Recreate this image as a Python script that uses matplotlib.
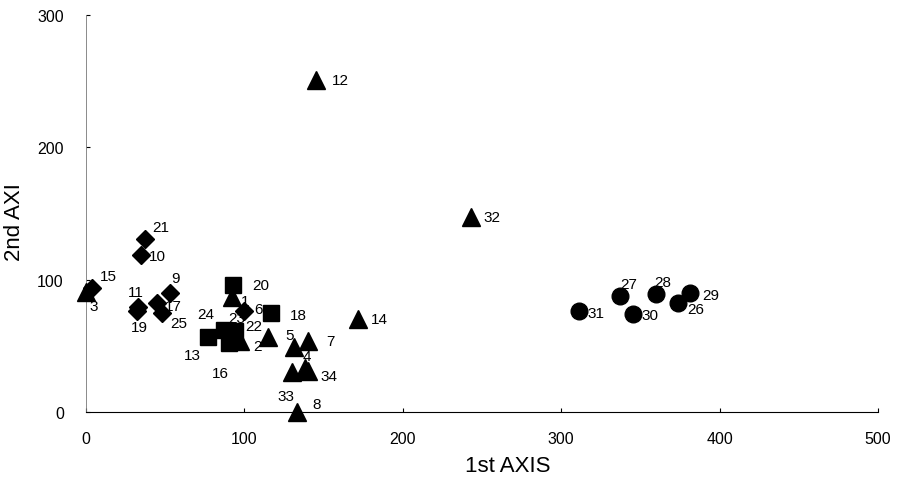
import matplotlib.pyplot as plt

plt.rcParams['font.family'] = ['Liberation Sans', 'DejaVu Sans']

# triangles
tri_lab = ['1', '2', '3', '4', '5', '7', '8', '12', '14', '22', '32', '33', '34']
tri_x = [92, 97, 0, 138, 131, 140, 133, 145, 172, 115, 243, 130, 140]
tri_y = [87, 54, 91, 33, 49, 54, 0, 251, 70, 57, 147, 30, 31]
# squares
sq_lab = ['13', '16', '18', '20', '23', '24']
sq_x = [77, 90, 117, 93, 94, 87]
sq_y = [57, 52, 75, 96, 61, 62]
# diamonds
dia_lab = ['6', '9', '10', '11', '15', '17', '19', '21', '25']
dia_x = [100, 53, 35, 33, 4, 45, 32, 37, 48]
dia_y = [76, 90, 119, 79, 94, 82, 76, 131, 75]
# circles
cir_lab = ['26', '27', '28', '29', '30', '31']
cir_x = [374, 337, 360, 381, 345, 311]
cir_y = [82, 88, 89, 90, 74, 76]

# label offsets in pixels (dx, dy down)
offs = {'1': (13, 4), '2': (18, 5), '3': (8, 14), '4': (2, -12), '5': (-4, -12),
        '7': (23, 0), '8': (20, -8), '12': (25, 0), '14': (21, 0), '22': (-14, -11),
        '32': (21, 0), '33': (-6, 24), '34': (21, 5),
        '13': (-16, 18), '16': (-8, 30), '18': (27, 2), '20': (27, 0), '23': (2, -13),
        '24': (-18, -16),
        '6': (14, -2), '9': (6, -15), '10': (16, 1), '11': (-2, -15), '15': (16, -12),
        '17': (16, 3), '19': (3, 16), '21': (16, -12), '25': (17, 10),
        '26': (17, 6), '27': (9, -12), '28': (6, -12), '29': (21, 2), '30': (17, 1),
        '31': (17, 2)}

fig = plt.figure(figsize=(8.98, 4.89), dpi=100)
ax = fig.add_axes([0.0958, 0.1554, 0.882, 0.812])

groups = [(tri_lab, tri_x, tri_y, '^', 13),
          (sq_lab, sq_x, sq_y, 's', 12),
          (dia_lab, dia_x, dia_y, 'D', 9),
          (cir_lab, cir_x, cir_y, 'o', 12)]
for lab, xs, ys, m, ms in groups:
    ax.plot(xs, ys, linestyle='none', marker=m, markersize=ms, color='black',
            zorder=3, clip_on=False)
    for t, x, y in zip(lab, xs, ys):
        dx, dy = offs[t]
        ax.annotate(t, (x, y), xytext=(dx, -dy), textcoords='offset pixels',
                    ha='center', va='center', fontsize=11, zorder=2)

ax.set_xlim(0, 500)
ax.set_ylim(0, 300)
ax.set_xticks([0, 100, 200, 300, 400, 500])
ax.set_yticks([0, 100, 200, 300])
ax.spines['top'].set_visible(False)
ax.spines['right'].set_visible(False)
ax.spines['left'].set_color('#777777')
ax.spines['left'].set_linewidth(0.6)
ax.spines['bottom'].set_linewidth(0.8)
ax.tick_params(direction='in', length=3, labelsize=11.5, pad=14)
ax.tick_params(axis='y', pad=16)
ax.set_xlabel('1st AXIS', fontsize=16)
ax.set_ylabel('2nd AXI', fontsize=16)
ax.xaxis.set_label_coords(0.533, -0.108)
ax.yaxis.set_label_coords(-0.077, 0.48)

fig.savefig('out.png')
